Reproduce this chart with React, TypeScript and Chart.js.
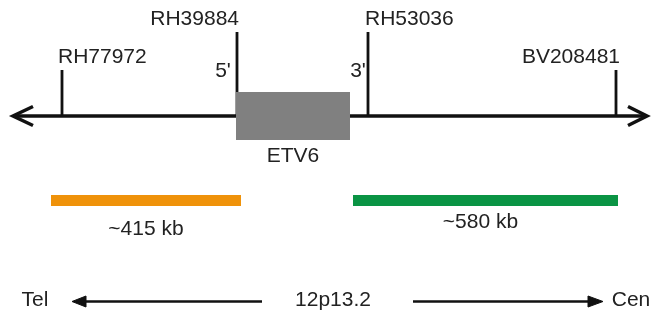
import React, { useEffect, useRef } from 'react';
import { Chart, registerables } from 'chart.js';

Chart.register(...registerables);

// ---- Diagram data (map coordinates along the chromosome drawing) ----
const axisRange = [13, 647];
const axisLevel = 116;

const markerNames = ['RH77972', 'RH39884', 'RH53036', 'BV208481'];
const markerPos = [62, 237, 368, 616];
const markerTop = [70, 32, 32, 70];

const geneName = 'ETV6';
const geneSpan = [236, 350];
const geneEndLabels = ["5'", "3'"];

const spanLabels = ['~415 kb', '~580 kb'];
const spanStart = [51, 353];
const spanEnd = [241, 618];

const bandLabel = '12p13.2';
const directionLabels = ['Tel', 'Cen'];

// ---- styles ----
const spanColors = ['#EF920A', '#0A9444'];
const geneColor = '#808080';
const ink = '#111111';
const textColor = '#222222';
const FONT = '21px "Liberation Sans", Arial, sans-serif';

const W = 670;
const H = 314;

const line = (pts: { x: number; y: number }[], extra: any = {}) => ({
  type: 'line',
  data: pts,
  borderColor: ink,
  borderWidth: 3,
  pointRadius: 0,
  tension: 0,
  fill: false,
  borderCapStyle: 'butt',
  borderJoinStyle: 'miter',
  ...extra,
});

export default function App() {
  const ref = useRef<HTMLCanvasElement>(null);

  useEffect(() => {
    document.body.style.margin = '0';
    const canvas = ref.current;
    if (!canvas) return;

    const yAxis = axisLevel;
    const datasets: any[] = [];

    // gene box (drawn on top -> first)
    datasets.push(
      line(
        [
          { x: geneSpan[0], y: 92 },
          { x: geneSpan[1], y: 92 },
        ],
        { borderWidth: 0, fill: { value: 140 }, backgroundColor: geneColor, order: 0 }
      )
    );

    // main axis with open arrowheads
    datasets.push(
      line(
        [
          { x: axisRange[0], y: yAxis },
          { x: axisRange[1], y: yAxis },
        ],
        { borderWidth: 3.5, order: 5 }
      )
    );
    datasets.push(
      line(
        [
          { x: axisRange[0] + 20, y: yAxis - 9.5 },
          { x: axisRange[0], y: yAxis },
          { x: axisRange[0] + 20, y: yAxis + 9.5 },
        ],
        { borderWidth: 3.5, order: 5 }
      )
    );
    datasets.push(
      line(
        [
          { x: axisRange[1] - 19, y: yAxis - 9.5 },
          { x: axisRange[1], y: yAxis },
          { x: axisRange[1] - 19, y: yAxis + 9.5 },
        ],
        { borderWidth: 3.5, order: 5 }
      )
    );

    // markers
    markerPos.forEach((x, i) => {
      datasets.push(
        line(
          [
            { x, y: markerTop[i] },
            { x, y: yAxis },
          ],
          { borderWidth: 2.8, order: 5 }
        )
      );
    });

    // kb spans
    spanStart.forEach((s, i) => {
      datasets.push(
        line(
          [
            { x: s, y: 200.5 },
            { x: spanEnd[i], y: 200.5 },
          ],
          { borderWidth: 11, borderColor: spanColors[i], order: 5 }
        )
      );
    });

    // bottom direction arrows
    const by = 301.5;
    datasets.push(line([{ x: 84, y: by }, { x: 262, y: by }], { borderWidth: 2.5, order: 5 }));
    datasets.push(line([{ x: 413, y: by }, { x: 590, y: by }], { borderWidth: 2.5, order: 5 }));
    datasets.push(
      line(
        [
          { x: 86, y: by - 5.5 },
          { x: 72, y: by },
          { x: 86, y: by + 5.5 },
          { x: 86, y: by - 5.5 },
        ],
        { borderWidth: 1, fill: 'shape', backgroundColor: ink, order: 5 }
      )
    );
    datasets.push(
      line(
        [
          { x: 588, y: by - 5.5 },
          { x: 603, y: by },
          { x: 588, y: by + 5.5 },
          { x: 588, y: by - 5.5 },
        ],
        { borderWidth: 1, fill: 'shape', backgroundColor: ink, order: 5 }
      )
    );

    type Lbl = { t: string; x: number; y: number; a: CanvasTextAlign };
    const labels: Lbl[] = [];
    const markerAlign: CanvasTextAlign[] = ['left', 'right', 'left', 'right'];
    const markerDx = [-4, 2, -3, 4];
    markerNames.forEach((t, i) =>
      labels.push({ t, x: markerPos[i] + markerDx[i], y: markerTop[i] - 7, a: markerAlign[i] })
    );
    labels.push({ t: geneEndLabels[0], x: geneSpan[0] - 13, y: 77, a: 'center' });
    labels.push({ t: geneEndLabels[1], x: markerPos[2] - 10, y: 77, a: 'center' });
    labels.push({ t: geneName, x: (geneSpan[0] + geneSpan[1]) / 2, y: 162, a: 'center' });
    labels.push({ t: spanLabels[0], x: (spanStart[0] + spanEnd[0]) / 2, y: 235, a: 'center' });
    labels.push({ t: spanLabels[1], x: (spanStart[1] + spanEnd[1]) / 2 - 5, y: 228, a: 'center' });
    labels.push({ t: directionLabels[0], x: 35, y: 306, a: 'center' });
    labels.push({ t: bandLabel, x: 333, y: 306, a: 'center' });
    labels.push({ t: directionLabels[1], x: 631, y: 306, a: 'center' });

    const textPlugin = {
      id: 'diagramText',
      afterDatasetsDraw(chart: any) {
        const { ctx, scales } = chart;
        ctx.save();
        ctx.font = FONT;
        ctx.fillStyle = textColor;
        ctx.textBaseline = 'alphabetic';
        labels.forEach((l) => {
          ctx.textAlign = l.a;
          ctx.fillText(l.t, scales.x.getPixelForValue(l.x), scales.y.getPixelForValue(l.y));
        });
        ctx.restore();
      },
    };

    const chart = new Chart(canvas, {
      type: 'line',
      data: { datasets },
      options: {
        responsive: false,
        animation: false,
        events: [],
        layout: { padding: 0 },
        scales: {
          x: { type: 'linear', min: 0, max: W, display: false },
          y: { type: 'linear', min: 0, max: H, reverse: true, display: false },
        },
        plugins: {
          legend: { display: false },
          tooltip: { enabled: false },
          title: { display: false },
        },
      } as any,
      plugins: [textPlugin],
    } as any);

    return () => chart.destroy();
  }, []);

  return (
    <div style={{ width: W, height: H, background: '#fff' }}>
      <canvas ref={ref} width={W} height={H} style={{ display: 'block' }} />
    </div>
  );
}
